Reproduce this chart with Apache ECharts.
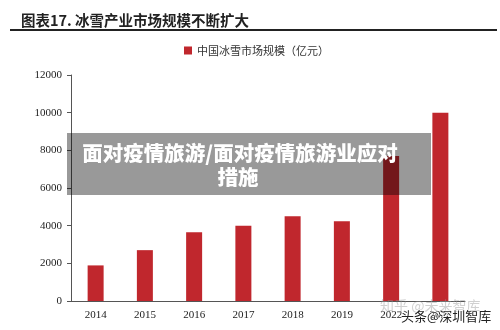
<!DOCTYPE html>
<html><head><meta charset="utf-8">
<script src="https://cdn.jsdelivr.net/npm/echarts@6/dist/echarts.min.js"></script>
<style>html,body{margin:0;padding:0;background:#fff}#c{width:500px;height:330px}</style>
</head><body><div id="c"></div>
<script>
var categories = ['2014','2015','2016','2017','2018','2019','2022','2025'];
var values = [1890, 2700, 3650, 4000, 4500, 4230, 7700, 10000];
var yTicks = [0, 2000, 4000, 6000, 8000, 10000, 12000];
var seriesName = '中国冰雪市场规模（亿元）';
var titleText = '图表17. 冰雪产业市场规模不断扩大';
var overlayLine1 = '面对疫情旅游/面对疫情旅游业应对';
var overlayLine2 = '措施';
var watermark1 = '知乎 @未来智库';
var watermark2 = '头条@深圳智库';

var chart = echarts.init(document.getElementById('c'));
chart.setOption({
  animation: false,
  title: {text: titleText, left: 16, top: 8,
    textStyle: {fontSize: 14.5, fontWeight: 'bold', color: '#222', fontFamily: 'Noto Sans CJK SC'}},
  legend: {data: [seriesName], top: 40, left: 179, itemWidth: 8, itemHeight: 8, itemGap: 4,
    icon: 'rect', textStyle: {fontSize: 11, color: '#333', fontFamily: 'Noto Sans CJK SC'}},
  grid: {left: 71, right: 35, top: 75, bottom: 29},
  xAxis: {type: 'category', data: categories,
    axisLine: {lineStyle: {color: '#555', width: 1}}, axisTick: {show: false},
    axisLabel: {color: '#222', fontSize: 11, fontFamily: 'Liberation Serif', margin: 9}},
  yAxis: {type: 'value', min: yTicks[0], max: yTicks[yTicks.length-1], interval: 2000,
    axisLine: {show: true, lineStyle: {color: '#555'}},
    axisTick: {show: true, length: 4, lineStyle: {color: '#555'}},
    splitLine: {show: false},
    axisLabel: {color: '#222', fontSize: 11, fontFamily: 'Liberation Serif', margin: 9,
      formatter: function (v) { return String(v); }}},
  series: [{name: seriesName, type: 'bar', data: values, barWidth: 16,
    itemStyle: {color: '#c0272d'}}],
  graphic: [
    {type: 'line', shape: {x1: 10, y1: 30, x2: 497, y2: 30}, style: {stroke: '#222', lineWidth: 2}, z: 100},
    {type: 'rect', shape: {x: 67, y: 133, width: 364, height: 62}, style: {fill: 'rgba(0,0,0,0.4)'}, z: 100},
    {type: 'text', x: 240, y: 153, z: 101, style: {text: overlayLine1, fill: '#fff', font: '900 20.5px "Noto Sans CJK SC"', textAlign: 'center', textVerticalAlign: 'middle'}},
    {type: 'text', x: 238, y: 177, z: 101, style: {text: overlayLine2, fill: '#fff', font: '900 20.5px "Noto Sans CJK SC"', textAlign: 'center', textVerticalAlign: 'middle'}},
    {type: 'text', x: 380, y: 306, z: 101, style: {text: watermark1, fill: 'rgba(150,150,150,0.45)', font: '14px "Noto Sans CJK SC"', textVerticalAlign: 'middle'}},
    {type: 'text', x: 401, y: 316, z: 102, style: {text: watermark2, fill: '#222', font: '13px "Noto Sans CJK SC"', textVerticalAlign: 'middle', stroke: '#fff', lineWidth: 1}}
  ]
});
</script></body></html>
